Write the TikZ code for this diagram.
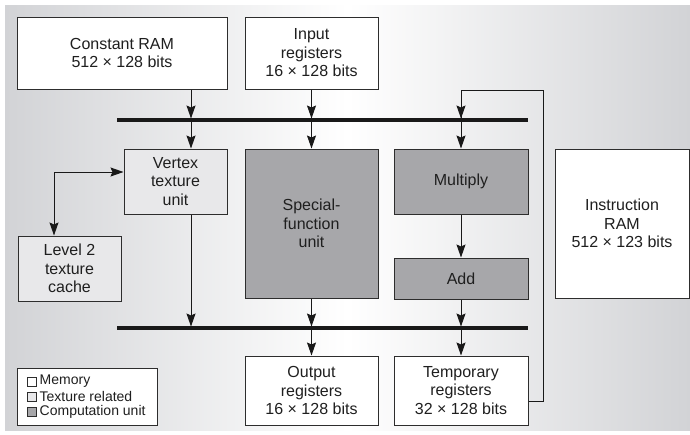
\documentclass[tikz,border=0pt]{standalone}
\usepackage{fontspec}
\setmainfont{Liberation Sans}
\usetikzlibrary{arrows.meta,calc}
\definecolor{bgc}{RGB}{210,211,214}
\definecolor{texfill}{RGB}{232,232,234}
\definecolor{compfill}{RGB}{167,167,170}
\definecolor{edge}{RGB}{45,45,45}
\begin{document}
\begin{tikzpicture}[x=1pt,y=-1pt,
  box/.style={draw=edge,line width=1pt,inner sep=0pt,align=center,
    font=\fontsize{16}{18.5}\selectfont,text=black!88},
  mem/.style={box,fill=white},
  tex/.style={box,fill=texfill},
  comp/.style={box,fill=compfill},
  arr/.style={line width=1pt,draw=black!90,-{Stealth[length=13pt,width=9pt,inset=2pt]}},
  biarr/.style={line width=1pt,draw=black!90,{Stealth[length=13pt,width=9pt,inset=2pt]}-{Stealth[length=13pt,width=9pt,inset=2pt]}},
  plain/.style={line width=1pt,draw=black!90},
  bus/.style={line width=3.5pt,draw=black!90},
  legtext/.style={anchor=west,inner sep=0pt,font=\fontsize{14}{15}\selectfont,text=black!88},
  legsq/.style={draw=edge,line width=0.8pt,minimum size=9pt,inner sep=0pt}
]
\useasboundingbox (0,0) rectangle (690,434);
\shade[left color=bgc,right color=bgc,middle color=white] (5,5) rectangle (690,430);
% boxes
\node[mem,minimum width=210,minimum height=72] (cram) at (122,53) {Constant RAM\\512 × 128 bits};
\node[mem,minimum width=133,minimum height=72] (inreg) at (311.5,53) {Input\\registers\\16 × 128 bits};
\node[tex,minimum width=103,minimum height=65] (vtu) at (175.5,181.5) {Vertex\\texture\\unit};
\node[comp,minimum width=133,minimum height=149] (sfu) at (311.5,223.5) {Special-\\function\\unit};
\node[comp,minimum width=134,minimum height=65] (mul) at (461,181.5) {Multiply};
\node[comp,minimum width=134,minimum height=41] (add) at (461,278.5) {Add};
\node[mem,minimum width=133,minimum height=69] (outreg) at (311.5,390.5) {Output\\registers\\16 × 128 bits};
\node[mem,minimum width=134,minimum height=69] (tmpreg) at (461,390.5) {Temporary\\registers\\32 × 128 bits};
\node[mem,minimum width=134,minimum height=149] (iram) at (622,223.5) {Instruction\\RAM\\512 × 123 bits};
\node[tex,minimum width=103,minimum height=65] (l2) at (69.5,268.5) {Level 2\\texture\\cache};
% legend
\node[draw=edge,line width=1pt,fill=white,minimum width=140,minimum height=57,inner sep=0pt] (legend) at (87,396.5) {};
\node[legsq,fill=white] (sq1) at (32,381.5) {};
\node[legsq,fill=texfill] (sq2) at (32,396.5) {};
\node[legsq,fill=compfill] (sq3) at (32,411.5) {};
\node[legtext] (lt1) at (39.5,381.5) {Memory};
\node[legtext] (lt2) at (39.5,396.5) {Texture related};
\node[legtext] (lt3) at (39.5,411.5) {Computation unit};
% buses
\coordinate (bus1l) at (117,120);
\coordinate (bus1r) at (528,120);
\coordinate (bus2l) at (117,328);
\coordinate (bus2r) at (528,328);
\draw[bus] (bus1l) -- (bus1r);
\draw[bus] (bus2l) -- (bus2r);
% columns
\coordinate (cA) at (191,0);
\coordinate (cB) at (311.5,0);
\coordinate (cC) at (461,0);
\draw[arr] (cram.south -| cA) -- ($(bus1l -| cA)+(0,-1.5)$);
\draw[arr] (bus1l -| cA) -- (vtu.north -| cA);
\draw[arr] (vtu.south -| cA) -- ($(bus2l -| cA)+(0,-1.5)$);
\draw[arr] (inreg.south) -- ($(bus1l -| cB)+(0,-1.5)$);
\draw[arr] (bus1l -| cB) -- (sfu.north);
\draw[arr] (sfu.south) -- ($(bus2l -| cB)+(0,-1.5)$);
\draw[arr] (bus2l -| cB) -- (outreg.north);
\draw[arr] (mul.south) -- (add.north);
\draw[arr] (add.south) -- ($(bus2l -| cC)+(0,-1.5)$);
\draw[arr] (bus2l -| cC) -- (tmpreg.north);
% feedback loop
\coordinate (fb1) at ($(tmpreg.east)+(0,10.5)$);
\coordinate (fb2) at (543,90);
\draw[plain] (fb1) -- (fb1 -| fb2) -- (fb2) -- (fb2 -| cC) -- (bus1l -| cC);
\draw[arr] (fb2 -| cC) -- ($(bus1l -| cC)+(0,-1.5)$);
\draw[arr] (bus1l -| cC) -- (mul.north);
% texture cache link
\coordinate (tl) at (54,172);
\draw[biarr] (l2.north -| tl) -- (tl) -- (vtu.west |- tl);
\end{tikzpicture}
\end{document}
